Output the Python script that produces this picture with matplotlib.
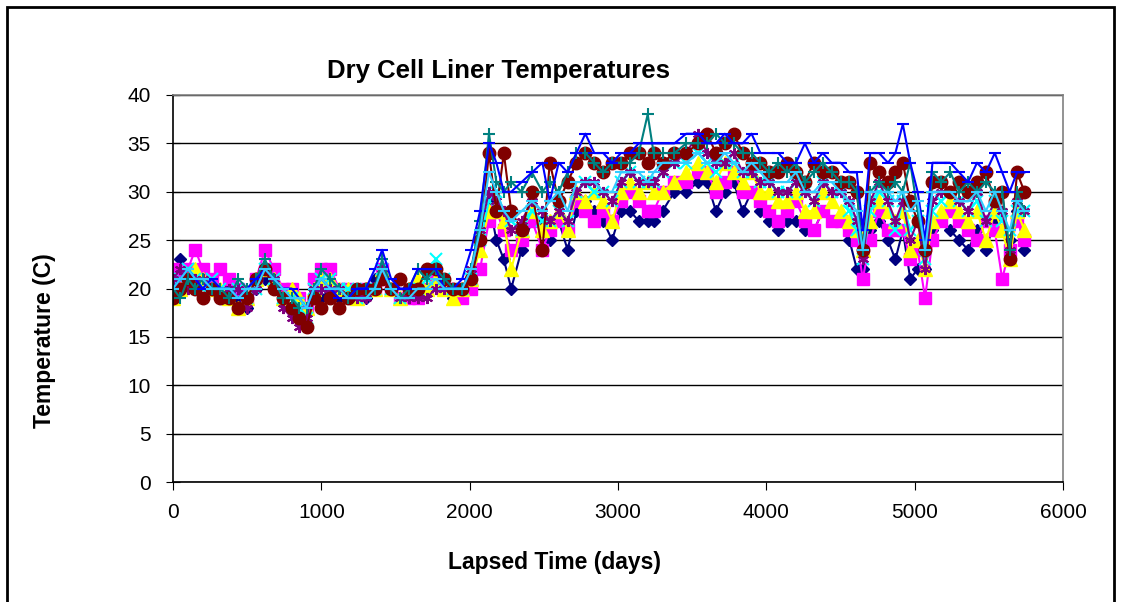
import matplotlib.pyplot as plt
import matplotlib.patches as patches

plt.rcParams['font.family'] = ['Liberation Sans', 'DejaVu Sans']

# lapsed time (days)
days = [0, 50, 100, 150, 200, 260, 320, 380, 440, 500, 560, 620, 680, 740, 800, 850, 900, 950, 1000,
        1060, 1120, 1180, 1240, 1300, 1360, 1410, 1470, 1530, 1590, 1650, 1710, 1770, 1830, 1890, 1950,
        2010, 2070, 2130, 2180, 2230, 2280, 2350, 2420, 2490, 2540, 2600, 2660, 2720, 2780, 2840, 2900, 2960,
        3020, 3080, 3140, 3200, 3240, 3300, 3380, 3460, 3540, 3600, 3660, 3720, 3780, 3840, 3900, 3960,
        4020, 4080, 4140, 4200, 4260, 4320, 4380, 4440, 4500, 4560, 4610, 4650, 4700, 4760, 4820, 4870, 4920, 4970,
        5020, 5070, 5120, 5180, 5240, 5300, 5360, 5420, 5480, 5540, 5590, 5640, 5690, 5740]

navy = [20, 23, 21, 20, 21, 20, 19, 20, 19, 18, 20, 21, 20, 19, 18, 17, 18, 20, 19,
        20, 19, 19, 19, 19, 21, 22, 20, 19, 19, 20, 20, 21, 20, 19, 20,
        21, 25, 29, 25, 23, 20, 24, 27, 27, 25, 27, 24, 28, 29, 28, 27, 25,
        28, 28, 27, 27, 27, 28, 30, 30, 31, 31, 28, 30, 31, 28, 30, 28,
        27, 26, 27, 27, 26, 26, 28, 27, 27, 25, 22, 22, 26, 27, 25, 23, 26, 21,
        22, 22, 26, 27, 26, 25, 24, 26, 24, 27, 26, 25, 28, 24]

magenta = [22, 21, 22, 24, 22, 21, 22, 21, 20, 19, 21, 24, 22, 20, 20, 19, 18, 21, 22,
           22, 20, 20, 19, 20, 20, 22, 20, 19, 19, 19, 20, 21, 20, 20, 19,
           20, 22, 27, 28, 26, 24, 25, 27, 24, 26, 27, 26, 29, 28, 27, 28, 27,
           29, 30, 29, 28, 28, 30, 31, 31, 32, 32, 30, 31, 32, 30, 30, 29,
           28, 27, 28, 29, 27, 26, 28, 27, 27, 26, 25, 21, 25, 28, 26, 26, 26, 23,
           24, 19, 25, 27, 28, 27, 26, 25, 27, 26, 21, 24, 27, 25]

yellow = [19, 20, 21, 22, 21, 20, 20, 19, 18, 19, 21, 22, 21, 19, 20, 19, 18, 20, 21,
          21, 20, 20, 19, 20, 20, 22, 20, 19, 20, 21, 20, 21, 20, 19, 20,
          21, 24, 28, 28, 27, 22, 26, 28, 26, 27, 28, 26, 30, 29, 30, 29, 27,
          30, 31, 30, 31, 30, 30, 31, 32, 33, 32, 31, 33, 32, 31, 32, 30,
          30, 29, 29, 30, 28, 28, 30, 29, 28, 27, 26, 24, 27, 29, 28, 27, 28, 24,
          25, 22, 27, 28, 29, 28, 27, 28, 25, 28, 26, 23, 28, 26]

cyan = [20, 21, 22, 21, 20, 21, 20, 19, 20, 19, 20, 22, 21, 19, 19, 18, 17, 20, 21,
        21, 20, 20, 19, 20, 20, 22, 20, 19, 20, 20, 21, 23, 21, 20, 20,
        21, 25, 29, 30, 28, 27, 26, 28, 27, 27, 28, 27, 30, 31, 30, 30, 29,
        31, 32, 31, 31, 31, 32, 33, 33, 34, 33, 32, 33, 33, 32, 32, 31,
        31, 30, 30, 31, 30, 29, 31, 30, 30, 28, 26, 23, 28, 30, 29, 26, 29, 26,
        27, 23, 28, 29, 30, 29, 28, 29, 27, 29, 27, 26, 28, 28]

purple = [21, 22, 20, 21, 21, 20, 19, 20, 20, 18, 20, 22, 21, 18, 17, 16, 17, 20, 20,
          20, 20, 19, 19, 19, 20, 22, 20, 19, 19, 19, 19, 20, 20, 20, 20,
          22, 26, 30, 29, 28, 26, 27, 29, 28, 27, 28, 27, 30, 31, 31, 30, 29,
          31, 32, 31, 31, 31, 32, 33, 34, 36, 34, 33, 33, 34, 32, 32, 31,
          31, 30, 30, 31, 30, 29, 31, 30, 30, 29, 27, 23, 29, 31, 29, 27, 29, 25,
          27, 22, 29, 30, 30, 29, 28, 30, 27, 29, 28, 24, 29, 28]

maroon = [19, 20, 21, 20, 19, 20, 19, 19, 18, 19, 21, 22, 20, 19, 18, 17, 16, 19, 18,
          19, 18, 19, 20, 20, 20, 21, 20, 21, 20, 20, 22, 22, 21, 20, 20,
          21, 25, 34, 28, 34, 28, 26, 30, 24, 33, 29, 31, 33, 34, 33, 32, 33,
          33, 34, 34, 33, 34, 33, 34, 34, 35, 36, 34, 35, 36, 34, 33, 33,
          32, 32, 33, 32, 31, 33, 32, 32, 31, 31, 30, 24, 33, 32, 31, 32, 33, 29,
          27, 24, 31, 31, 30, 31, 30, 31, 32, 29, 30, 23, 32, 30]

teal = [20, 19, 21, 20, 21, 20, 20, 19, 21, 20, 21, 23, 21, 19, 19, 18, 18, 20, 22,
        21, 20, 19, 20, 20, 20, 23, 20, 19, 20, 22, 21, 22, 21, 20, 20,
        22, 27, 36, 31, 30, 31, 30, 32, 30, 31, 30, 32, 34, 34, 33, 32, 33,
        33, 33, 34, 38, 34, 34, 34, 35, 35, 35, 36, 35, 35, 34, 34, 33,
        32, 33, 32, 33, 31, 32, 33, 32, 31, 31, 30, 24, 30, 31, 30, 31, 30, 33,
        28, 24, 32, 31, 32, 30, 31, 30, 31, 30, 30, 24, 30, 28]

blue = [20, 21, 22, 21, 20, 21, 20, 20, 19, 20, 21, 22, 21, 20, 20, 19, 18, 20, 21,
        20, 19, 19, 20, 20, 22, 24, 21, 20, 20, 22, 22, 22, 20, 20, 21,
        24, 28, 35, 33, 30, 30, 31, 32, 33, 29, 33, 32, 34, 36, 34, 34, 33,
        34, 34, 35, 35, 35, 35, 35, 36, 36, 35, 35, 36, 35, 35, 36, 34,
        34, 34, 33, 33, 35, 33, 34, 33, 33, 32, 32, 26, 34, 34, 33, 34, 37, 33,
        30, 25, 33, 33, 33, 32, 31, 33, 32, 34, 32, 30, 32, 32]

skyblue = [20, 21, 22, 21, 21, 20, 20, 20, 19, 20, 20, 22, 21, 20, 19, 19, 18, 20, 21,
           20, 20, 19, 19, 19, 20, 22, 20, 19, 19, 20, 20, 21, 20, 20, 20,
           22, 26, 32, 30, 28, 27, 28, 29, 28, 29, 30, 28, 31, 31, 31, 30, 30,
           32, 32, 32, 31, 32, 33, 33, 33, 34, 33, 33, 34, 33, 32, 33, 32,
           31, 31, 31, 32, 30, 30, 31, 31, 30, 29, 28, 24, 30, 30, 30, 29, 30, 28,
           29, 24, 30, 30, 30, 29, 29, 30, 28, 30, 28, 26, 29, 28]

fig = plt.figure(figsize=(11.25, 6.02), dpi=100)
ax = fig.add_axes([0.1538, 0.1993, 0.7911, 0.6429])

# frame round the whole chart
fig.patches.append(patches.Rectangle((0.0062, -0.02), 0.984, 1.008, transform=fig.transFigure,
                                     fill=False, edgecolor='black', linewidth=2))

ax.plot(days, navy, color='#000080', marker='D', ms=6.5, lw=1.5)
ax.plot(days, magenta, color='#FF00FF', marker='s', ms=9, lw=1.5)
ax.plot(days, yellow, color='#FFFF00', marker='^', ms=9.5, lw=1.5)
ax.plot(days, cyan, color='#00FFFF', marker='x', ms=8, mew=1.5, lw=1.5)
ax.plot(days, purple, color='#800080', marker=(6, 2, 0), ms=8, mew=1.5, lw=1.5)
ax.plot(days, maroon, color='#800000', marker='o', ms=9, lw=1.5)
ax.plot(days, teal, color='#008080', marker='+', ms=9, mew=1.5, lw=1.5)
ax.plot(days, blue, color='#0000FF', marker='_', ms=8, mew=1.5, lw=1.5)
ax.plot(days, skyblue, color='#33CCFF', marker='_', ms=8, mew=1.5, lw=1.5)

ax.set_xlim(0, 6000)
ax.set_ylim(0, 40)
ax.set_xticks([0, 1000, 2000, 3000, 4000, 5000, 6000])
ax.set_yticks(range(0, 45, 5))
ax.yaxis.grid(True, color='black', lw=1)
ax.set_axisbelow(True)

ax.spines['top'].set_color('#808080')
ax.spines['right'].set_color('#808080')
ax.spines['left'].set_color('black')
ax.spines['bottom'].set_color('black')
for s in ax.spines.values():
    s.set_linewidth(1.2)

ax.tick_params(axis='y', direction='inout', length=10, labelsize=15, pad=11)
ax.tick_params(axis='x', direction='out', length=6, labelsize=15, pad=9)

fig.text(0.493, 0.066, 'Lapsed Time (days)', fontsize=16.5, fontweight='bold', ha='center', va='center')
fig.text(0.040, 0.435, 'Temperature (C)', fontsize=16.5, fontweight='bold', ha='center', va='center',
         rotation=90)
fig.text(0.443, 0.87, 'Dry Cell Liner Temperatures', fontsize=18.5, fontweight='bold', ha='center')

fig.savefig('out.png', dpi=100)
